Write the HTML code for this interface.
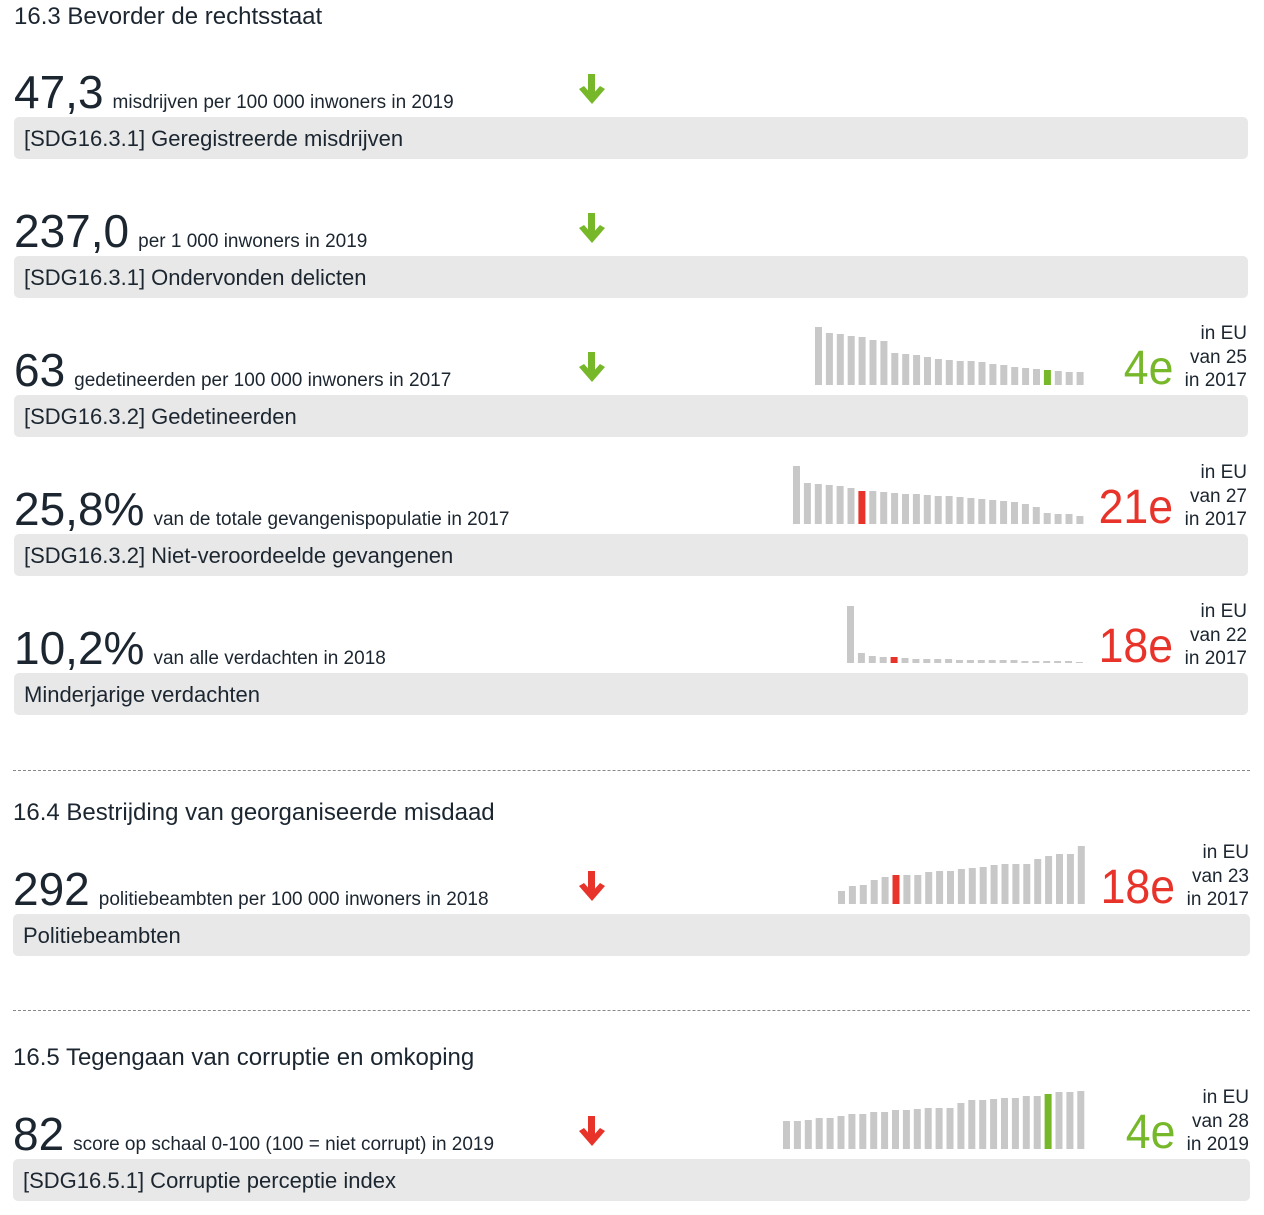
<!DOCTYPE html>
<html><head><meta charset="utf-8"><style>
body{margin:0;width:1264px;height:1215px;background:#fff;position:relative;overflow:hidden;font-family:"Liberation Sans",sans-serif;color:#1c2630}
.a{position:absolute;white-space:nowrap}
.h{font-size:24px;line-height:28px}
.nl{font-size:46px;line-height:46px}
.nl small{font-size:19px;margin-left:9px}
.box{position:absolute;background:#e8e8e8;border-radius:5px;height:42px}
.lab{font-size:22px;position:absolute;left:10px;top:9px;white-space:nowrap}
.rk{font-size:48px;line-height:48px;text-align:right;transform:scaleX(0.93);transform-origin:right bottom}
.eu{font-size:19px;line-height:23.5px;text-align:right}
.dash{position:absolute;left:13px;width:1237px;border-top:1px dashed #888}
</style></head><body>
<div class="a h" style="left:14px;top:3px">16.3 Bevorder de rechtsstaat</div>
<div class="dash" style="top:770px"></div>
<div class="a h" style="left:13px;top:799px">16.4 Bestrijding van georganiseerde misdaad</div>
<div class="dash" style="top:1010px"></div>
<div class="a h" style="left:13px;top:1044px">16.5 Tegengaan van corruptie en omkoping</div>
<div id="c"></div>
<script>
var G="#76b82a",R="#e8332a",C=document.getElementById('c'),h='';
var rows=[
{y:117,x0:14,w:1234,n:"47,3",t:"misdrijven per 100 000 inwoners in 2019",l:"[SDG16.3.1] Geregistreerde misdrijven",ar:G},
{y:256,x0:14,w:1234,n:"237,0",t:"per 1 000 inwoners in 2019",l:"[SDG16.3.1] Ondervonden delicten",ar:G},
{y:395,x0:14,w:1234,n:"63",t:"gedetineerden per 100 000 inwoners in 2017",l:"[SDG16.3.2] Gedetineerden",ar:G,rank:"4e",rc:G,of:"van 25",yr:"in 2017",bx:815,hs:[58,52,51,49,48,45,44,32,31,30,28,26,25,24,24,23,21,20,18,17,16,15,14,13,13],hi:21},
{y:534,x0:14,w:1234,n:"25,8%",t:"van de totale gevangenispopulatie in 2017",l:"[SDG16.3.2] Niet-veroordeelde gevangenen",rank:"21e",rc:R,of:"van 27",yr:"in 2017",bx:793,hs:[58,41,40,39,38,36,33,33,32,31,30,30,29,28,28,27,26,25,24,23,22,20,17,11,10,10,8],hi:6},
{y:673,x0:14,w:1234,n:"10,2%",t:"van alle verdachten in 2018",l:"Minderjarige verdachten",rank:"18e",rc:R,of:"van 22",yr:"in 2017",bx:847,hs:[57,10,7,6,6,5,4,4,4,4,3,3,3,3,3,3,2,2,2,2,2,1],hi:4},
{y:914,x0:13,w:1237,n:"292",t:"politiebeambten per 100 000 inwoners in 2018",l:"Politiebeambten",ar:R,rank:"18e",rc:R,of:"van 23",yr:"in 2017",bx:838,hs:[13,18,19,24,27,29,29,29,32,33,33,35,36,37,39,40,40,40,45,48,50,50,58],hi:5},
{y:1159,x0:13,w:1237,n:"82",t:"score op schaal 0-100 (100 = niet corrupt) in 2019",l:"[SDG16.5.1] Corruptie perceptie index",ar:R,rank:"4e",rc:G,of:"van 28",yr:"in 2019",bx:783,hs:[28,28,29,31,31,33,35,35,37,37,39,39,40,41,41,41,46,49,49,50,51,51,53,53,55,57,57,58],hi:24}
];
rows.forEach(function(r){
 var by=r.y-10, base=r.y-9;
 h+='<div class="box" style="left:'+r.x0+'px;top:'+r.y+'px;width:'+r.w+'px"><div class="lab">'+r.l+'</div></div>';
 h+='<div class="a nl" style="left:'+r.x0+'px;top:'+(base-39)+'px">'+r.n+'<small>'+r.t+'</small></div>';
 if(r.ar){var ay=r.y-43;
  h+='<svg class="a" style="left:577px;top:'+ay+'px" width="30" height="34"><rect x="11" y="0" width="7" height="22" fill="'+r.ar+'"/><path d="M2 15 L15 30 L28 15 L23 12 L15 21 L7 12Z" fill="'+r.ar+'"/></svg>';}
 if(r.rank){
  var s='<svg class="a" style="left:0;top:0" width="1264" height="1215">';
  r.hs.forEach(function(v,i){s+='<rect x="'+(r.bx+i*10.9).toFixed(1)+'" y="'+(by-v)+'" width="7" height="'+v+'" fill="'+(i==r.hi?r.rc:'#c8c8c8')+'"/>';});
  h+=s+'</svg>';
  var rx=r.x0+r.w;
  h+='<div class="a eu" style="right:'+(1264-rx+1)+'px;top:'+(r.y-73)+'px">in EU<br>'+r.of+'<br>'+r.yr+'</div>';
  h+='<div class="a rk" style="right:'+(1264-rx+75)+'px;top:'+(r.y-50)+'px;color:'+r.rc+'">'+r.rank+'</div>';
 }
});
C.innerHTML=h;
</script>
</body></html>
